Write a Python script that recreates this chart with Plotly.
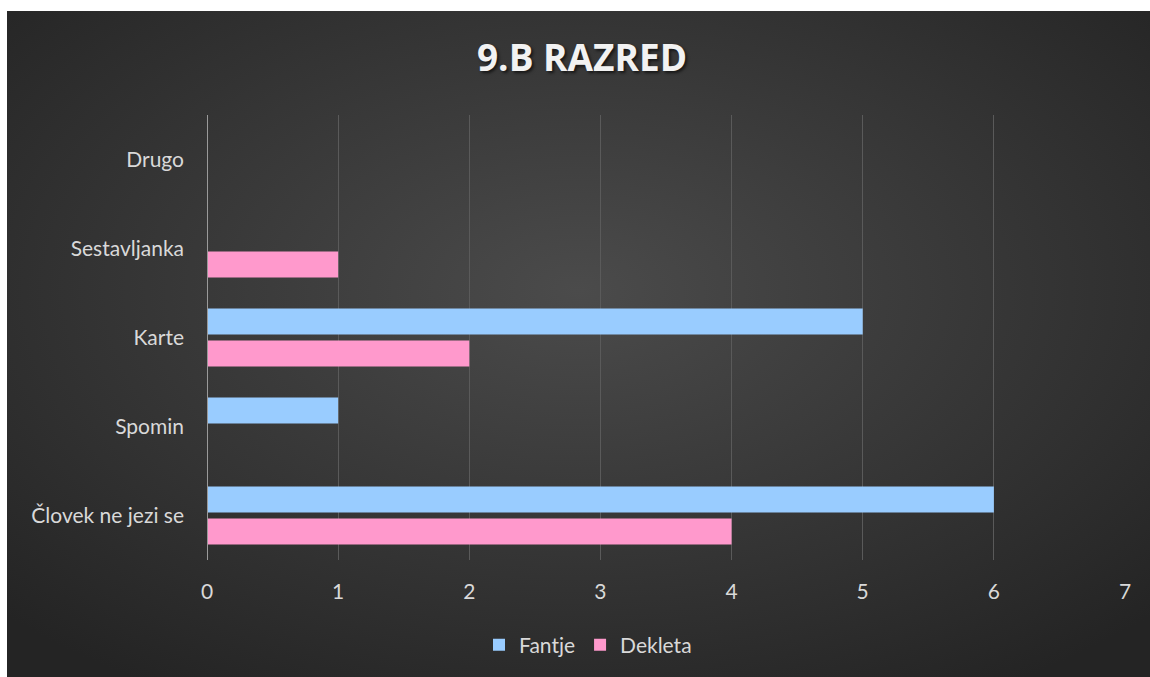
import base64
import plotly.graph_objects as go

# Survey results for class 9.B
categories = ["Drugo", "Sestavljanka", "Karte", "Spomin", "Človek ne jezi se"]
fantje = [0, 0, 5, 1, 6]
dekleta = [0, 1, 2, 0, 4]
x_ticks = [0, 1, 2, 3, 4, 5, 6, 7]

W, H = 1150, 677
L, R, T, B = 207, 25, 115, 117
pw, ph = W - L - R, H - T - B

# dark radial-gradient backdrop
svg = (
    '<svg xmlns="http://www.w3.org/2000/svg" width="1143" height="666" '
    'viewBox="0 0 1143 666" preserveAspectRatio="none">'
    '<defs><radialGradient id="g" cx="50%" cy="42%" r="70%">'
    '<stop offset="0" stop-color="#4b4b4b"/>'
    '<stop offset="1" stop-color="#242424"/>'
    '</radialGradient></defs>'
    '<rect width="1143" height="666" fill="url(#g)"/></svg>'
)
src = "data:image/svg+xml;base64," + base64.b64encode(svg.encode()).decode()

def px_x(p):
    return (p - L) / pw

def px_y(p):
    return (H - B - p) / ph

fig = go.Figure()
fig.add_trace(go.Bar(y=categories, x=fantje, name="Fantje", orientation="h",
                     marker=dict(color="#99CCFF", line=dict(width=0))))
fig.add_trace(go.Bar(y=categories, x=dekleta, name="Dekleta", orientation="h",
                     marker=dict(color="#FF99CC", line=dict(width=0))))

fig.update_layout(
    width=W, height=H,
    margin=dict(l=L, r=R, t=T, b=B),
    paper_bgcolor="white",
    plot_bgcolor="rgba(0,0,0,0)",
    barmode="group",
    bargap=0.28,
    bargroupgap=0.1875,
    font=dict(family="Lato, Open Sans, sans-serif", color="#d9d9d9", size=21),
    title=dict(
        text="<b>9.B RAZRED</b>",
        x=582 / W, xref="container", xanchor="center",
        y=1 - 58 / H, yref="container", yanchor="middle",
        font=dict(family="Open Sans, sans-serif", size=37, color="#f2f2f2",
                  shadow="2px 2px 3px rgba(0,0,0,0.6)"),
    ),
    xaxis=dict(
        range=[0, 7], tickvals=x_ticks, showgrid=True, gridcolor="#5a5a5a",
        gridwidth=1, zeroline=False, showline=False, ticks="",
        ticklabelstandoff=17, tickfont=dict(size=21, color="#d9d9d9"),
    ),
    yaxis=dict(
        categoryorder="array", categoryarray=categories, autorange="reversed",
        showgrid=False, zeroline=False, showline=False, ticks="",
        ticklabelstandoff=22, tickfont=dict(size=21, color="#d9d9d9"),
    ),
    legend=dict(
        orientation="h", x=px_x(588), xanchor="center", y=px_y(645), yanchor="middle",
        font=dict(size=21, color="#d9d9d9"), bgcolor="rgba(0,0,0,0)",
        itemwidth=30,
    ),
    images=[dict(
        source=src, xref="paper", yref="paper",
        x=px_x(7), y=px_y(11), sizex=px_x(W) - px_x(7), sizey=px_y(11) - px_y(H),
        xanchor="left", yanchor="top", sizing="stretch", layer="below",
    )],
    showlegend=True,
)

# vertical value axis line at zero
fig.add_shape(type="line", xref="x", yref="paper", x0=0, x1=0, y0=0, y1=1,
              line=dict(color="#9a9a9a", width=2), layer="above")

fig.write_html("out.html")
